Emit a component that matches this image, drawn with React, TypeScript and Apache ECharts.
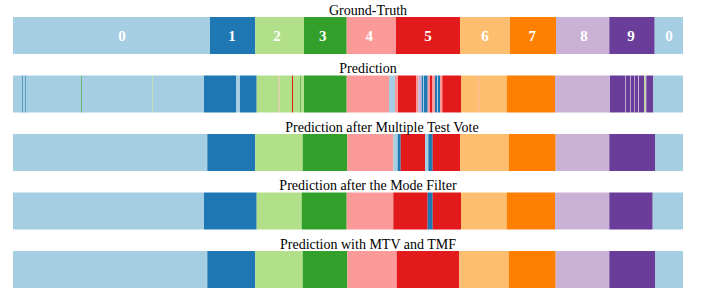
import React, { useEffect, useRef } from "react";
import * as echarts from "echarts";

// Paired colormap, one colour per action class 0..9
const PALETTE = [
  "#a6cee3", "#1f78b4", "#b2df8a", "#33a02c", "#fb9a99",
  "#e31a1c", "#fdbf6f", "#ff7f00", "#cab2d6", "#6a3d9a",
];

const rowTitles = [
  "Ground-Truth",
  "Prediction",
  "Prediction after Multiple Test Vote",
  "Prediction after the Mode Filter",
  "Prediction with MTV and TMF",
];
// frame at which each row title is centred
const titleCentres = [355, 355, 369, 355, 355];

const TOTAL_FRAMES = 670;

// Each row: segment end frames and class of each segment
const gtEnds = [197, 242.3, 291, 333.7, 383, 447, 497, 543, 596.3, 641.7, 670];
const gtClasses = [0, 1, 2, 3, 4, 5, 6, 7, 8, 9, 0];
// frame at which each ground-truth class number is written
const gtLabelFrames = [109, 219, 264, 309.7, 356.3, 415, 472, 519.3, 571, 618, 656];

const predEnds = [
  9.3, 10.3, 12, 12.8, 68, 68.8, 139, 139.8, 191,
  223, 227, 243.7,
  265.7, 266.5, 279, 280, 287, 287.8, 291, 333.7,
  376, 382, 385, 403,
  405.3, 408.7, 410, 411, 414.7, 417, 419, 422, 424, 425, 427, 429.3,
  448, 465, 465.6, 493.7, 542, 597,
  612, 612.8, 617, 617.7, 621, 621.7, 625.3, 626, 631, 632.3, 633.3, 640.3, 670,
];
const predClasses = [
  0, 1, 0, 1, 0, 3, 0, 2, 0,
  1, 0, 1,
  2, 4, 2, 5, 2, 3, 2, 3,
  4, 0, 4, 5,
  4, 8, 1, 0, 1, 4, 5, 4, 1, 0, 1, 4,
  5, 6, 4, 6, 7, 8,
  9, 8, 9, 8, 9, 8, 9, 8, 9, 2, 8, 9, 0,
];

const mtvEnds = [194.3, 242.3, 289.7, 334.3, 380.3, 384.7, 387.7, 412, 415.3, 419.7, 447, 495.7, 542.7, 596.3, 642, 670];
const mtvClasses = [0, 1, 2, 3, 4, 0, 1, 5, 0, 1, 5, 6, 7, 8, 9, 0];

const modeEnds = [191, 243.7, 288.7, 333.7, 380.3, 414.7, 419.7, 448, 493.7, 542, 596.3, 639.7, 670];
const modeClasses = [0, 1, 2, 3, 4, 5, 1, 5, 6, 7, 8, 9, 0];

const bothEnds = [194.3, 242.3, 289.7, 334.3, 383.7, 446.3, 495.7, 542.7, 596.3, 642, 670];
const bothClasses = [0, 1, 2, 3, 4, 5, 6, 7, 8, 9, 0];

const rows = [
  { ends: gtEnds, classes: gtClasses, labels: gtLabelFrames },
  { ends: predEnds, classes: predClasses, labels: null },
  { ends: mtvEnds, classes: mtvClasses, labels: null },
  { ends: modeEnds, classes: modeClasses, labels: null },
  { ends: bothEnds, classes: bothClasses, labels: null },
];

const BAR = 0.632; // bar thickness in row units

export default function App() {
  const ref = useRef<HTMLDivElement>(null);

  useEffect(() => {
    document.body.style.margin = "0";
    if (!ref.current) return;
    const chart = echarts.init(ref.current, null, { renderer: "svg" });

    const segData: number[][] = [];
    rows.forEach((r, ri) => {
      let start = 0;
      r.ends.forEach((end, k) => {
        segData.push([ri, start, end, r.classes[k], r.labels ? r.labels[k] : -1]);
        start = end;
      });
    });

    const titleData = rowTitles.map((_, i) => [i, titleCentres[i]]);

    chart.setOption({
      animation: false,
      grid: { left: 13, right: 18, top: 17, bottom: 3 },
      xAxis: { type: "value", min: 0, max: TOTAL_FRAMES, show: false },
      yAxis: {
        type: "value",
        min: -BAR / 2,
        max: rows.length - 1 + BAR / 2,
        inverse: true,
        show: false,
      },
      series: [
        {
          type: "custom",
          data: segData,
          clip: false,
          renderItem: (params: any, api: any) => {
            const row = api.value(0);
            const s = api.value(1);
            const e = api.value(2);
            const cls = api.value(3);
            const labAt = api.value(4);
            const p0 = api.coord([s, row]);
            const p1 = api.coord([e, row]);
            const h = Math.abs(api.size([0, BAR])[1]);
            const children: any[] = [
              {
                type: "rect",
                shape: { x: p0[0], y: p0[1] - h / 2, width: p1[0] - p0[0], height: h },
                style: { fill: PALETTE[cls] },
              },
            ];
            if (labAt >= 0) {
              const pl = api.coord([labAt, row]);
              children.push({
                type: "text",
                style: {
                  text: String(cls),
                  x: pl[0],
                  y: pl[1] + 1,
                  fill: "#ffffff",
                  font: "bold 15px 'Liberation Serif', serif",
                  align: "center",
                  verticalAlign: "middle",
                },
              });
            }
            return { type: "group", children };
          },
        },
        {
          type: "custom",
          data: titleData,
          clip: false,
          renderItem: (params: any, api: any) => {
            const row = api.value(0);
            const p = api.coord([api.value(1), row]);
            const h = Math.abs(api.size([0, BAR])[1]);
            return {
              type: "text",
              style: {
                text: rowTitles[params.dataIndex],
                x: p[0],
                y: p[1] - h / 2 - 7,
                fill: "#000000",
                font: "14px 'Liberation Serif', serif",
                align: "center",
                verticalAlign: "middle",
              },
            };
          },
        },
      ],
    });

    return () => chart.dispose();
  }, []);

  return <div ref={ref} style={{ width: 701, height: 291 }} />;
}
